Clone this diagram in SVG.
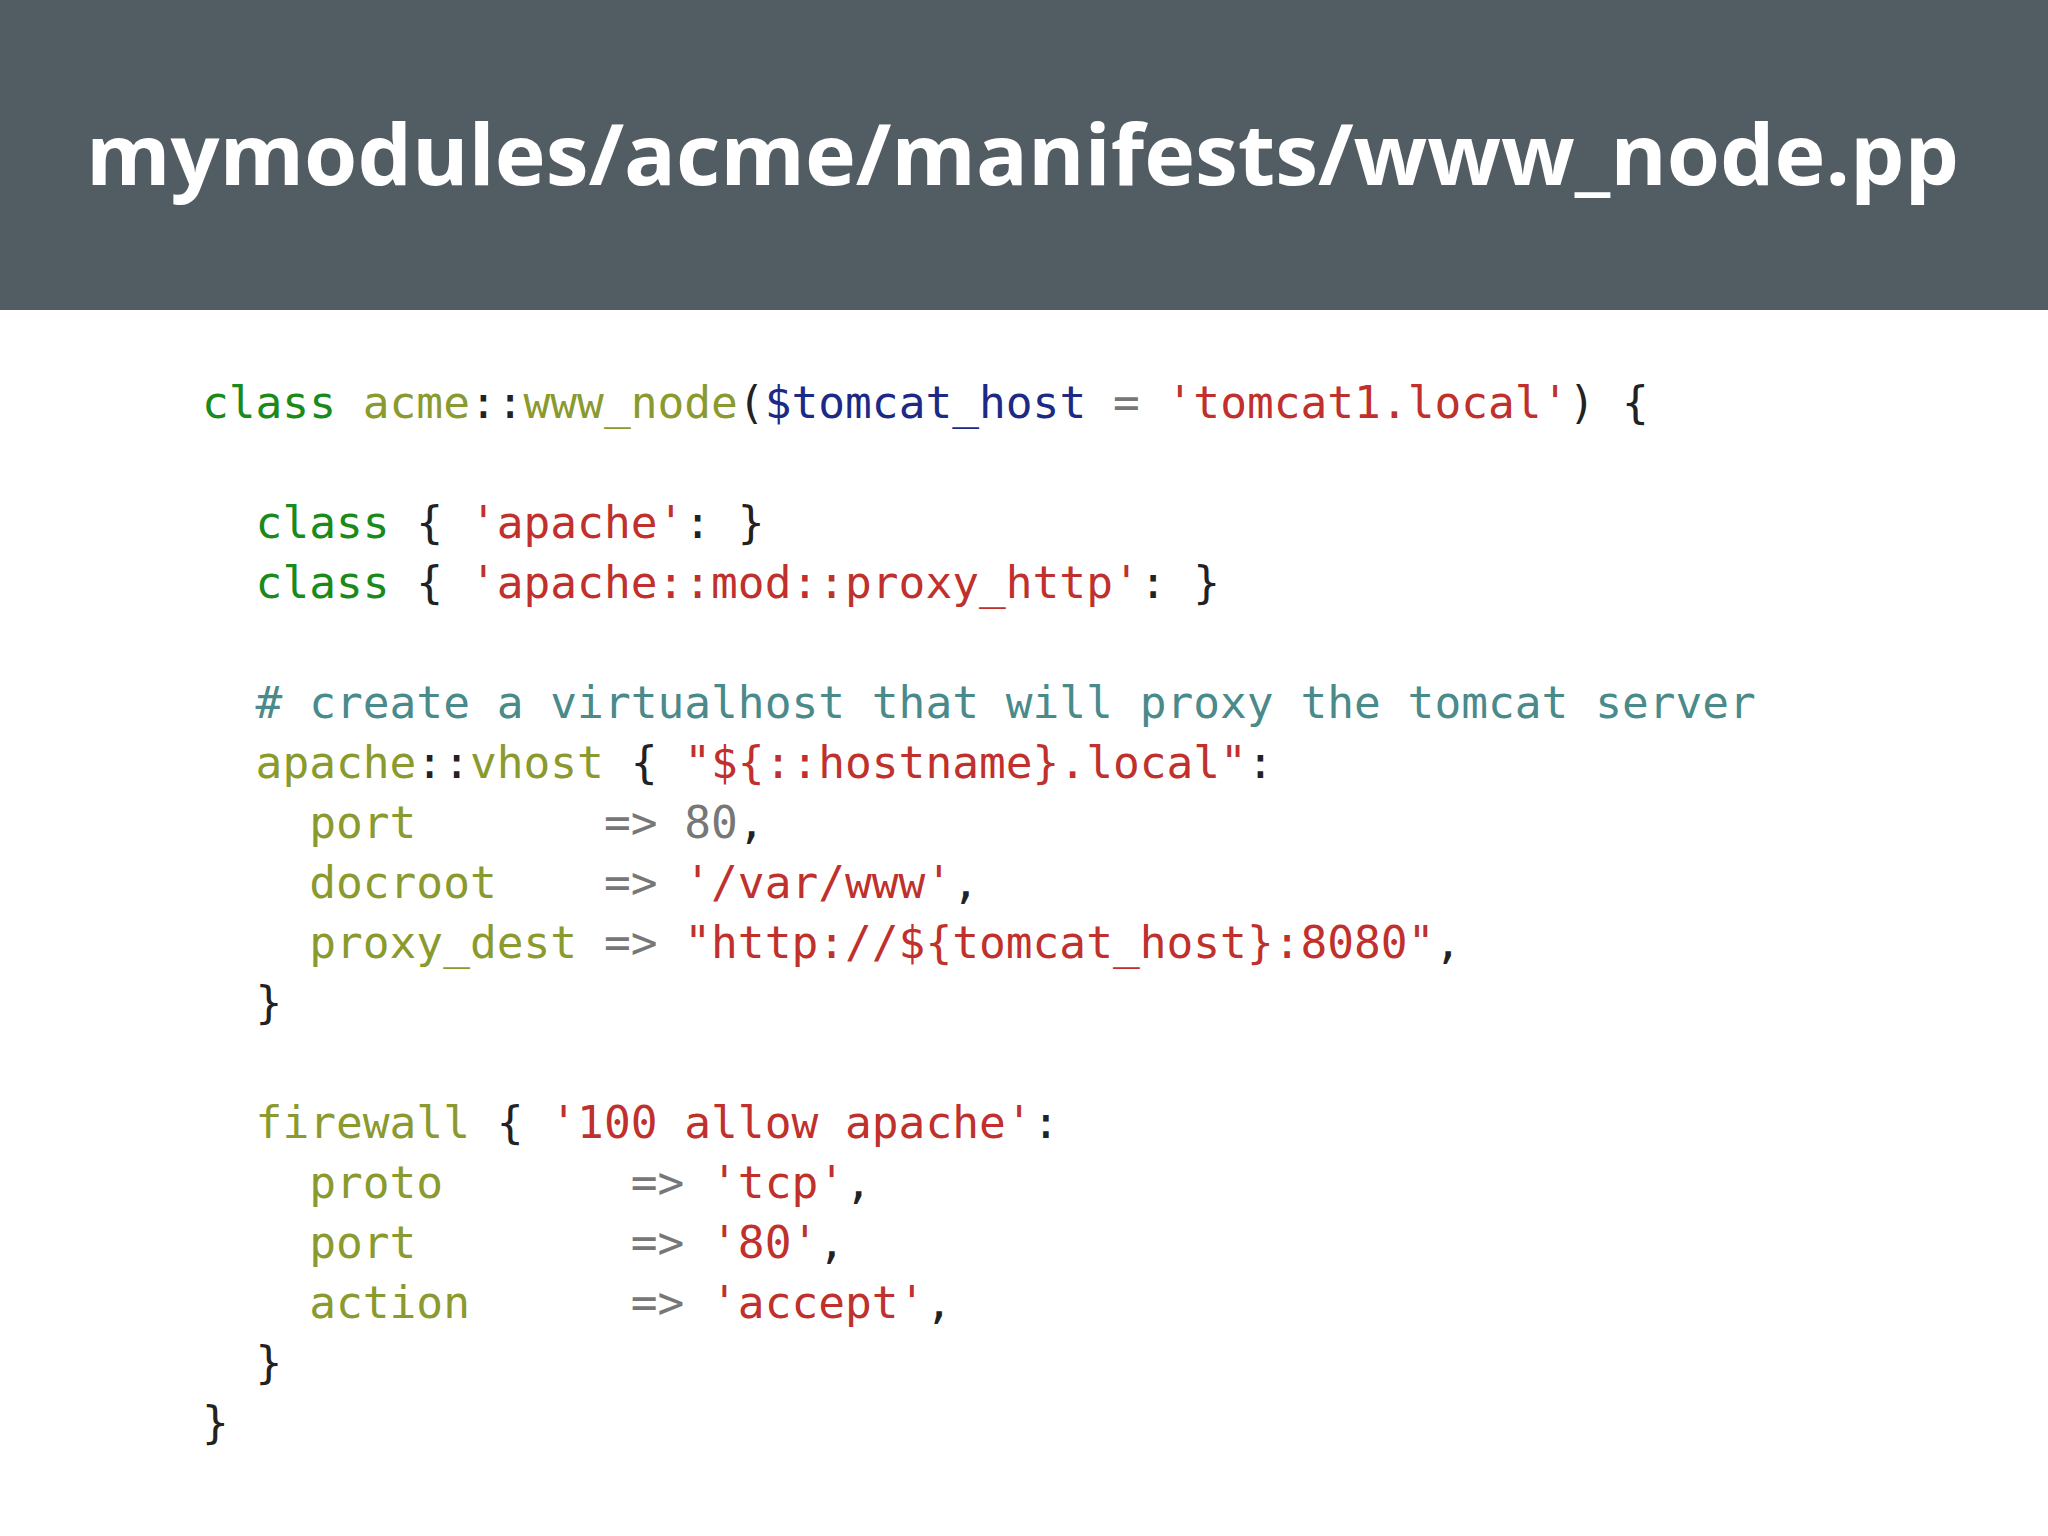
<svg xmlns="http://www.w3.org/2000/svg" width="2048" height="1536" viewBox="0 0 2048 1536" xml:space="preserve">
<style>
.c text{font-family:"DejaVu Sans Mono","Liberation Mono",monospace;font-size:44.5px;fill:#222;white-space:pre}
.k{fill:#1a8a1a}.o{fill:#8a9a2e}.v{fill:#1c2a86}.s{fill:#c0302c}.g{fill:#777}.m{fill:#4a8a8a}
</style>
<rect width="2048" height="1536" fill="#fff"/>
<g id="header">
<rect width="2048" height="310" fill="#525c63"/>
<text x="86" y="185" font-family="Open Sans, Liberation Sans, sans-serif" font-weight="bold" font-size="84" fill="#fff" textLength="1873" lengthAdjust="spacingAndGlyphs">mymodules/acme/manifests/www_node.pp</text>
</g>
<g id="code" class="c">
<text x="202" y="418" xml:space="preserve"><tspan class="k">class</tspan> <tspan class="o">acme</tspan>::<tspan class="o">www_node</tspan>(<tspan class="v">$tomcat_host</tspan> <tspan class="g">=</tspan> <tspan class="s">'tomcat1.local'</tspan>) {</text>
<text x="202" y="538" xml:space="preserve">  <tspan class="k">class</tspan> { <tspan class="s">'apache'</tspan>: }</text>
<text x="202" y="598" xml:space="preserve">  <tspan class="k">class</tspan> { <tspan class="s">'apache::mod::proxy_http'</tspan>: }</text>
<text x="202" y="718" xml:space="preserve">  <tspan class="m"># create a virtualhost that will proxy the tomcat server</tspan></text>
<text x="202" y="778" xml:space="preserve">  <tspan class="o">apache</tspan>::<tspan class="o">vhost</tspan> { <tspan class="s">"${::hostname}.local"</tspan>:</text>
<text x="202" y="838" xml:space="preserve">    <tspan class="o">port</tspan>       <tspan class="g">=&gt;</tspan> <tspan class="g">80</tspan>,</text>
<text x="202" y="898" xml:space="preserve">    <tspan class="o">docroot</tspan>    <tspan class="g">=&gt;</tspan> <tspan class="s">'/var/www'</tspan>,</text>
<text x="202" y="958" xml:space="preserve">    <tspan class="o">proxy_dest</tspan> <tspan class="g">=&gt;</tspan> <tspan class="s">"http://${tomcat_host}:8080"</tspan>,</text>
<text x="202" y="1018" xml:space="preserve">  }</text>
<text x="202" y="1138" xml:space="preserve">  <tspan class="o">firewall</tspan> { <tspan class="s">'100 allow apache'</tspan>:</text>
<text x="202" y="1198" xml:space="preserve">    <tspan class="o">proto</tspan>       <tspan class="g">=&gt;</tspan> <tspan class="s">'tcp'</tspan>,</text>
<text x="202" y="1258" xml:space="preserve">    <tspan class="o">port</tspan>        <tspan class="g">=&gt;</tspan> <tspan class="s">'80'</tspan>,</text>
<text x="202" y="1318" xml:space="preserve">    <tspan class="o">action</tspan>      <tspan class="g">=&gt;</tspan> <tspan class="s">'accept'</tspan>,</text>
<text x="202" y="1378" xml:space="preserve">  }</text>
<text x="202" y="1438" xml:space="preserve">}</text>
</g>
</svg>
